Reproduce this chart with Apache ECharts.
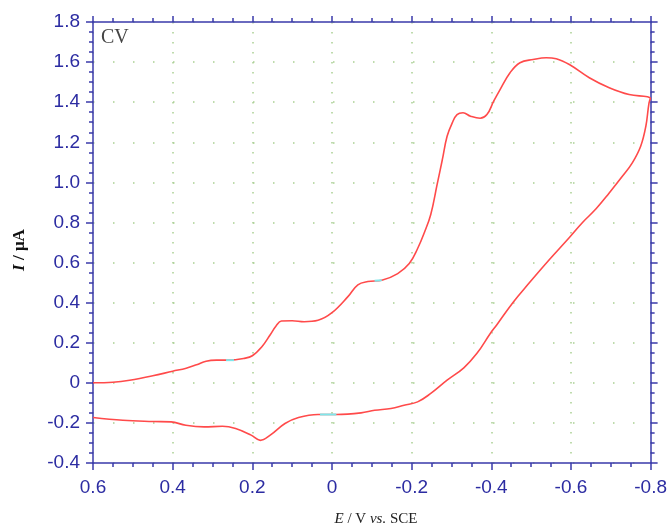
<!DOCTYPE html>
<html>
<head>
<meta charset="utf-8">
<script src="https://cdn.jsdelivr.net/npm/echarts@6/dist/echarts.min.js"></script>
<style>html,body{margin:0;padding:0;background:#fff}#c{width:670px;height:528px}</style>
</head>
<body>
<div id="c"></div>
<script>
// Forward scan (0.6 V -> -0.8 V)
const forwardE = [0.6, 0.55, 0.508, 0.45, 0.4, 0.366, 0.34, 0.316, 0.29, 0.259, 0.22, 0.2, 0.176, 0.155, 0.14, 0.127, 0.1, 0.07, 0.035, 0.0, -0.04, -0.065, -0.09, -0.127, -0.165, -0.194, -0.215, -0.232, -0.248, -0.264, -0.277, -0.289, -0.302, -0.314, -0.329, -0.348, -0.372, -0.389, -0.406, -0.422, -0.447, -0.472, -0.505, -0.538, -0.563, -0.596, -0.646, -0.696, -0.746, -0.792, -0.8];
const forwardI = [0.0, 0.003, 0.013, 0.035, 0.058, 0.073, 0.09, 0.108, 0.113, 0.113, 0.122, 0.135, 0.18, 0.24, 0.285, 0.308, 0.31, 0.305, 0.312, 0.35, 0.43, 0.489, 0.505, 0.513, 0.545, 0.595, 0.67, 0.75, 0.84, 0.99, 1.113, 1.23, 1.297, 1.338, 1.347, 1.33, 1.32, 1.338, 1.405, 1.463, 1.547, 1.597, 1.613, 1.622, 1.617, 1.588, 1.522, 1.472, 1.438, 1.427, 1.42];
// Reverse scan (-0.8 V -> 0.6 V)
const reverseE = [-0.8, -0.796, -0.788, -0.775, -0.754, -0.729, -0.696, -0.663, -0.629, -0.596, -0.546, -0.496, -0.454, -0.414, -0.397, -0.364, -0.331, -0.289, -0.248, -0.215, -0.181, -0.148, -0.107, -0.073, -0.011, 0.035, 0.084, 0.118, 0.155, 0.18, 0.203, 0.242, 0.275, 0.321, 0.367, 0.404, 0.45, 0.525, 0.6];
const reverseI = [1.42, 1.397, 1.28, 1.18, 1.097, 1.03, 0.947, 0.868, 0.8, 0.725, 0.615, 0.5, 0.4, 0.29, 0.245, 0.147, 0.075, 0.013, -0.053, -0.095, -0.112, -0.128, -0.137, -0.15, -0.158, -0.158, -0.173, -0.203, -0.261, -0.287, -0.261, -0.228, -0.217, -0.22, -0.212, -0.195, -0.193, -0.187, -0.173];
// small cyan cursor segments
const cursorE = [[0.266, 0.246], [-0.107, -0.125], [0.03, -0.011]];
const cursorI = [[0.113, 0.113], [0.509, 0.512], [-0.158, -0.158]];
// axis ticks
const xTicks = {min: -0.8, max: 0.6, step: 0.2};
const yTicks = {min: -0.4, max: 1.8, step: 0.2};

const pairs = (xs, ys) => xs.map((x, i) => [x, ys[i]]);
const fmt = v => Math.abs(v) < 1e-9 ? '0' : v.toFixed(1);
const AX = '#3a3aaa';
const LBL = '#2c2ca2';
const DOT = '#a9cf92';

function makeX(pos, showLabel) {
  return {
    type: 'value', position: pos, inverse: true,
    min: xTicks.min, max: xTicks.max, interval: xTicks.step,
    axisLine: {show: true, onZero: false, lineStyle: {color: AX, width: 1.5}},
    axisTick: {show: true, inside: false, length: pos === 'bottom' ? 7 : 6, lineStyle: {color: AX, width: 1.5}},
    minorTick: {show: true, splitNumber: 4, length: 4, lineStyle: {color: AX, width: 1.5}},
    axisLabel: {show: showLabel, formatter: fmt, color: LBL, fontFamily: 'Liberation Sans, Arial', fontSize: 19, margin: 15},
    splitLine: {show: pos === 'bottom', lineStyle: {color: DOT, width: 1.5, type: [1.5, 8.5]}},
    minorSplitLine: {show: false}
  };
}
function makeY(pos, showLabel) {
  return {
    type: 'value', position: pos,
    min: yTicks.min, max: yTicks.max, interval: yTicks.step,
    axisLine: {show: true, onZero: false, lineStyle: {color: AX, width: 1.5}},
    axisTick: {show: true, inside: false, length: 7, lineStyle: {color: AX, width: 1.5}},
    minorTick: {show: true, splitNumber: 4, length: 4, lineStyle: {color: AX, width: 1.5}},
    axisLabel: {show: showLabel, formatter: fmt, color: LBL, fontFamily: 'Liberation Sans, Arial', fontSize: 19, margin: 13},
    splitLine: {show: pos === 'left', lineStyle: {color: DOT, width: 1.5, type: [1.5, 18.5]}},
    minorSplitLine: {show: false}
  };
}

const chart = echarts.init(document.getElementById('c'), null, {renderer: 'canvas'});
const series = [
  {type: 'line', xAxisIndex: 0, yAxisIndex: 0, data: pairs(forwardE, forwardI), smooth: 0.4, showSymbol: false, lineStyle: {color: '#ff4a4a', width: 1.6}, z: 3},
  {type: 'line', xAxisIndex: 0, yAxisIndex: 0, data: pairs(reverseE, reverseI), smooth: 0.4, showSymbol: false, lineStyle: {color: '#ff4a4a', width: 1.6}, z: 3}
];
cursorE.forEach((xs, k) => series.push({
  type: 'line', xAxisIndex: 0, yAxisIndex: 0, data: pairs(xs, cursorI[k]), showSymbol: false,
  lineStyle: {color: '#7fe6ea', width: 2}, z: 4
}));

chart.setOption({
  animation: false,
  backgroundColor: '#fff',
  grid: {left: 93, right: 15, top: 22, bottom: 65},
  xAxis: [makeX('bottom', true), makeX('top', false)],
  yAxis: [makeY('left', true), makeY('right', false)],
  series: series,
  graphic: [
    {type: 'text', left: 101, top: 28, style: {text: 'CV', fill: '#444', font: '20px "Liberation Serif", "Times New Roman", serif'}},
    {type: 'text', x: 376, y: 519, style: {
      text: '{i|E} / V {i|vs.} SCE', align: 'center', verticalAlign: 'middle', fill: '#222',
      font: '15px "Liberation Serif", "Times New Roman", serif',
      rich: {i: {fontStyle: 'italic', fontFamily: 'Liberation Serif', fontSize: 15, fill: '#222'}}
    }},
    {type: 'text', x: 20, y: 250, rotation: Math.PI / 2, style: {
      text: '{i|I} / μA', align: 'center', verticalAlign: 'middle', fill: '#111',
      font: 'bold 17px "Liberation Serif", "Times New Roman", serif',
      rich: {i: {fontStyle: 'italic', fontWeight: 'bold', fontFamily: 'Liberation Serif', fontSize: 17, fill: '#111'}}
    }}
  ]
});
</script>
</body>
</html>
